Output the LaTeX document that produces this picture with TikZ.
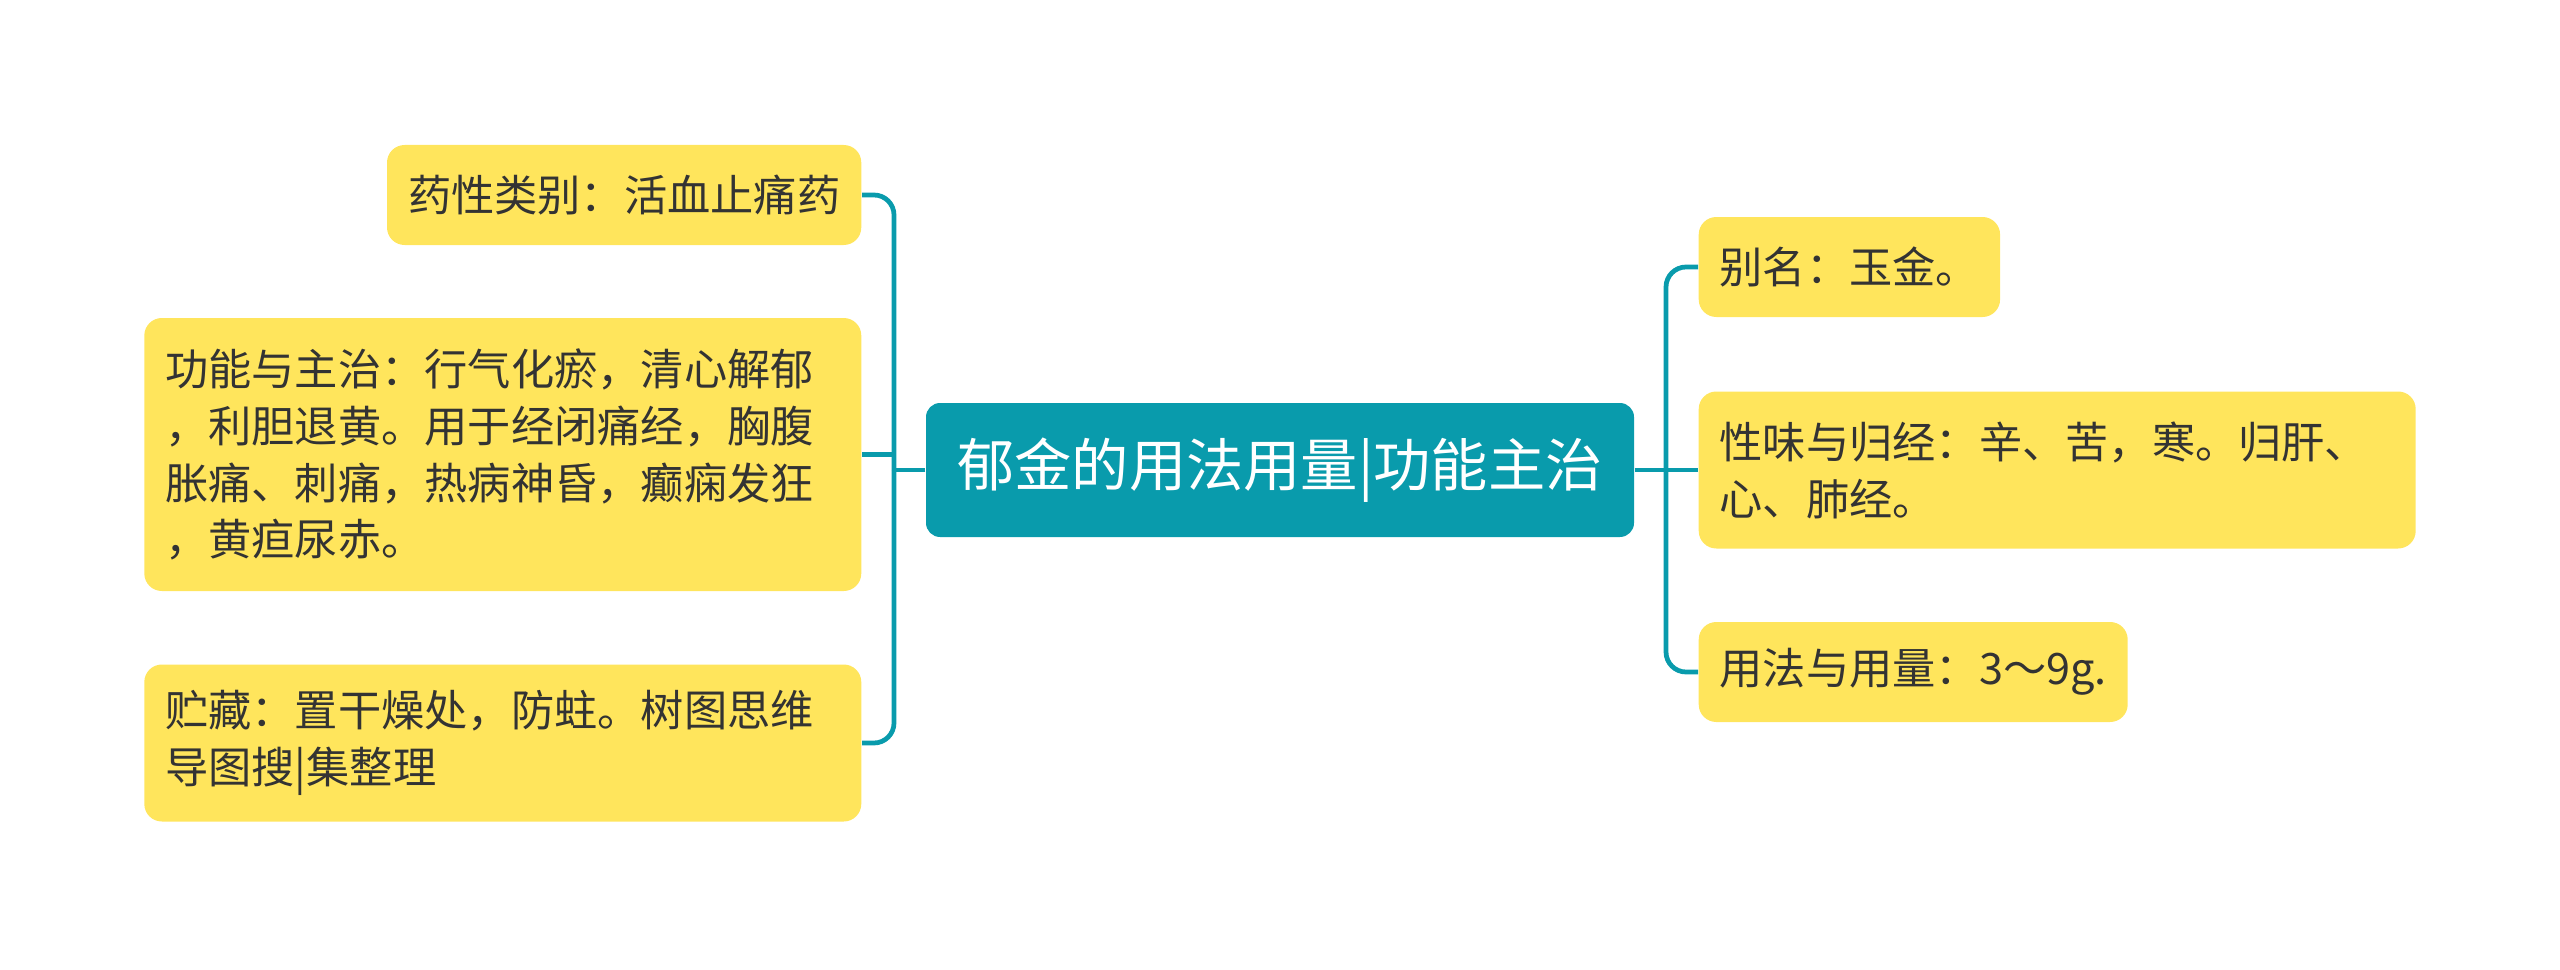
\documentclass[tikz,border=0pt]{standalone}
\usepackage{xcolor}
\usepackage{fontspec}
\usepackage{tikz}
\usetikzlibrary{positioning}
\newfontfamily\cjk{Noto Sans CJK SC}
\definecolor{myteal}{RGB}{9,155,172}
\definecolor{myyellow}{RGB}{255,229,92}
\definecolor{mydark}{RGB}{51,51,51}
\tikzset{
  hubnode/.style={rectangle, fill=myteal, text=white, align=center,
    minimum width=7.08cm, minimum height=1.34cm,
    font=\cjk\fontsize{16.3}{20}\selectfont, rounded corners=4pt},
  leaf/.style={rectangle, fill=myyellow, text=mydark, align=left,
    inner xsep=0.21cm, inner ysep=0pt, minimum height=1cm,
    font=\cjk\fontsize{12.3}{16.2}\selectfont, rounded corners=5pt},
  wideleaf/.style={leaf, text width=6.75cm},
  branch/.style={line width=1.35pt, color=myteal},
  bentbranch/.style={branch, rounded corners=0.2cm}
}
\begin{document}
\begin{tikzpicture}
  \useasboundingbox (0,0) rectangle (25.6,9.69);
  % Central topic
  \node[hubnode] (hub) at (12.80,4.99) {郁金的用法用量|功能主治};
  % Left branches
  \node[leaf, anchor=east] (l1) at (8.62,7.74) {药性类别：活血止痛药};
  \node[wideleaf, anchor=east, minimum height=2.73cm] (l2) at (8.62,5.145)
    {功能与主治：行气化瘀，清心解郁\\，利胆退黄。用于经闭痛经，胸腹\\胀痛、刺痛，热病神昏，癫痫发狂\\，黄疸尿赤。};
  \node[wideleaf, anchor=east, minimum height=1.57cm] (l3) at (8.62,2.26)
    {贮藏：置干燥处，防蛀。树图思维\\导图搜|集整理};
  % Right branches
  \node[leaf, anchor=west] (r1) at (16.98,7.02) {别名：玉金。};
  \node[wideleaf, anchor=west, minimum height=1.57cm] (r2) at (16.98,4.99)
    {性味与归经：辛、苦，寒。归肝、\\心、肺经。};
  \node[leaf, anchor=west] (r3) at (16.98,2.97) {用法与用量：3～9g.};
  % Connectors
  \coordinate (lj) at (8.94,4.99);
  \coordinate (rj) at (16.66,4.99);
  \draw[branch] (hub.west) -- (lj);
  \draw[bentbranch] (lj) |- (l1.east);
  \draw[branch] (lj) |- (l2.east);
  \draw[bentbranch] (lj) |- (l3.east);
  \draw[branch] (hub.east) -- (rj);
  \draw[bentbranch] (rj) |- (r1.west);
  \draw[branch] (rj) -- (r2.west);
  \draw[bentbranch] (rj) |- (r3.west);
\end{tikzpicture}
\end{document}
